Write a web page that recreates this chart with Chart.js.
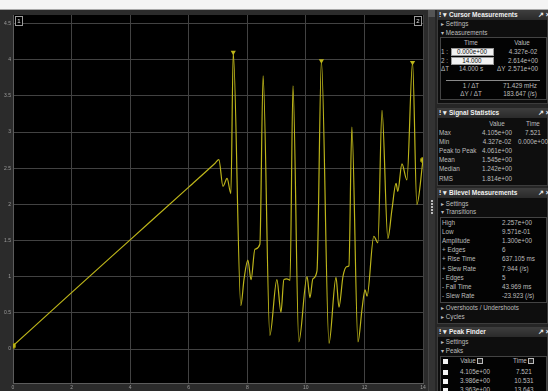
<!DOCTYPE html>
<html>
<head>
<meta charset="utf-8">
<script src="https://cdn.jsdelivr.net/npm/chart.js@4"></script>
<style>
  body { margin: 0; width: 548px; height: 391px; overflow: hidden; background: #262626;
         font-family: "Liberation Sans", Arial, sans-serif; position: relative; }
  #topbar { position: absolute; left: 0; top: 0; width: 548px; height: 9px; background: #f4f4f4; border-bottom: 1px solid #a8a8a8; }
  #plotWrap { position: absolute; left: 0; top: 10px; width: 428px; height: 381px; background: #2b2b2b; }
  #sep { position: absolute; left: 428px; top: 10px; width: 7px; height: 381px; background: #333; border-left: 1px solid #444; box-sizing: border-box; }
  .dot { position: absolute; left: 431px; width: 2px; height: 2px; background: #bbb; }
  .panel { position: absolute; left: 437px; width: 111px; background: #0e0e0e; border: 1px solid #3c3c3c; box-sizing: border-box; }
  .hdr { position: absolute; left: 0; top: 0; right: 0; height: 9px; background: linear-gradient(#3c3c3c, #2a2a2a); }
  .box { position: absolute; border: 1px solid #444; background: #030303; box-sizing: border-box; }
  .t { position: absolute; font-size: 6.3px; line-height: 8px; height: 8px; white-space: nowrap; color: #bdbdbd; }
  .h { font-size: 6.5px; font-weight: bold; color: #f0f0f0; }
  .inp { position: absolute; left: 451px; width: 43px; height: 8px; background: #f2f2f2; border: 1px solid #999; box-sizing: border-box; }
  .chk { position: absolute; left: 443px; width: 5px; height: 5px; background: #f4f4f4; }
  .dd { position: absolute; width: 6px; height: 6px; border: 1px solid #bbb; box-sizing: border-box; background: #222; }
</style>
</head>
<body>
<div id="topbar"></div>
<div id="plotWrap"><canvas id="scope" width="428" height="381"></canvas></div>
<div id="sep"></div>
<div id="side"></div>
<script>
// signal samples
const times = [0, 2, 4, 6, 6.9, 7.03, 7.17, 7.31, 7.44, 7.521, 7.78, 7.89, 8.02, 8.13, 8.26, 8.43, 8.54, 8.77, 9.01,
  9.15, 9.25, 9.35, 9.46, 9.56, 9.76, 10.04, 10.14, 10.24, 10.38, 10.531, 10.79, 11.03, 11.13, 11.27,
  11.40, 11.47, 11.57, 11.78, 11.92, 12.02, 12.09, 12.32, 12.46, 12.60, 12.80, 12.94, 13.08, 13.14,
  13.28, 13.45, 13.643, 13.79, 14];
const values = [0.043, 0.78, 1.51, 2.24, 2.57, 2.62, 2.25, 2.36, 2.15, 4.105, 0.60, 0.97, 1.23, 0.96, 1.38, 1.45, 3.78, 0.19, 0.96,
  0.51, 0.96, 0.97, 0.95, 3.64, 0.10, 1.00, 0.71, 0.97, 1.08, 3.986, 0.08, 0.99, 0.58, 1.01,
  1.14, 1.15, 3.07, 0.10, 0.56, 0.82, 0.73, 1.56, 1.47, 3.30, 1.53, 1.93, 2.29, 2.18,
  2.56, 2.34, 3.963, 2.00, 2.614];
const cursorTimes = [0, 14];
const cursorValues = [0.04327, 2.614];
const peakTimes = [7.521, 10.531, 13.643];
const peakValues = [4.105, 3.986, 3.963];
const xTicks = [0, 2, 4, 6, 8, 10, 12, 14];
const yTicks = [0, 0.5, 1, 1.5, 2, 2.5, 3, 3.5, 4, 4.5];

const yellow = '#bdb51a';
const zip = (xs, ys) => xs.map((x, i) => ({ x: x, y: ys[i] }));

const scopeLook = {
  id: 'scopeLook',
  beforeDraw(chart) {
    const a = chart.chartArea, c = chart.ctx;
    c.save();
    c.fillStyle = '#000';
    c.fillRect(a.left, a.top, a.right - a.left, a.bottom - a.top);
    c.restore();
  },
  afterDraw(chart) {
    const c = chart.ctx, a = chart.chartArea, xs = chart.scales.x;
    c.save();
    c.font = '6px "Liberation Sans", Arial';
    c.textAlign = 'center';
    c.textBaseline = 'middle';
    cursorTimes.forEach((t, i) => {
      const px = xs.getPixelForValue(t);
      const bx = i === 0 ? px + 2 : px - 9;
      c.fillStyle = '#000';
      c.fillRect(bx, a.top + 1, 7, 9);
      c.strokeStyle = '#9a9a9a';
      c.lineWidth = 1;
      c.strokeRect(bx + 0.5, a.top + 1.5, 7, 9);
      c.fillStyle = '#e0e0e0';
      c.fillText(String(i + 1), bx + 4, a.top + 6);
    });
    c.restore();
  }
};

new Chart(document.getElementById('scope'), {
  type: 'line',
  data: {
    datasets: [
      {
        data: zip(times, values),
        borderColor: yellow,
        borderWidth: 1.2,
        pointRadius: 0,
        cubicInterpolationMode: 'monotone'
      },
      {
        type: 'scatter',
        data: zip(cursorTimes, cursorValues),
        pointStyle: 'circle',
        pointRadius: 2.6,
        backgroundColor: yellow,
        borderColor: '#8a8400',
        borderWidth: 1
      },
      {
        type: 'scatter',
        data: zip(peakTimes, peakValues),
        pointStyle: 'triangle',
        rotation: 180,
        pointRadius: 3,
        backgroundColor: yellow,
        borderColor: yellow,
        borderWidth: 0
      }
    ]
  },
  options: {
    responsive: false,
    animation: false,
    devicePixelRatio: 1,
    layout: { padding: { top: 3, right: 3, left: 0, bottom: 0 } },
    plugins: { legend: { display: false }, tooltip: { enabled: false } },
    scales: {
      x: {
        type: 'linear', min: 0, max: 14,
        afterBuildTicks: s => { s.ticks = xTicks.map(v => ({ value: v })); },
        afterFit: s => { s.height = 8; },
        grid: { color: '#424242', drawTicks: false },
        border: { color: '#5c5c5c' },
        ticks: { color: '#9c9c9c', font: { size: 5, family: 'Liberation Sans' }, padding: 2, maxRotation: 0,
                 callback: v => String(v) }
      },
      y: {
        type: 'linear', min: -0.47, max: 4.62,
        afterBuildTicks: s => { s.ticks = yTicks.map(v => ({ value: v })); },
        afterFit: s => { s.width = 13; },
        grid: { color: '#424242', drawTicks: false },
        border: { color: '#5c5c5c' },
        ticks: { color: '#9c9c9c', font: { size: 5, family: 'Liberation Sans' }, padding: 2,
                 callback: v => String(v) }
      }
    }
  },
  plugins: [scopeLook]
});

// side panels (measurement readouts)
const side = document.getElementById('side');
function el(cls, css, text) {
  const d = document.createElement('div');
  d.className = cls;
  d.style.cssText = css;
  if (text !== undefined) d.textContent = text;
  side.appendChild(d);
  return d;
}
function txt(s, x, cy, align, extra) {
  const tf = align === 'c' ? 'translateX(-50%)' : align === 'r' ? 'translateX(-100%)' : 'none';
  el('t ' + (extra || ''), 'left:' + x + 'px;top:' + (cy - 4) + 'px;transform:' + tf, s);
}
function panel(top, height, title) {
  const p = el('panel', 'top:' + top + 'px;height:' + height + 'px');
  const h = document.createElement('div');
  h.className = 'hdr';
  p.appendChild(h);
  txt('\u205E \u25BE', 439, top + 5, 'l', 'h');
  txt(title, 449, top + 5, 'l', 'h');
  txt('\u2197 \u00D7', 538, top + 5, 'l', 'h');
}
function box(l, t, w, h) { el('box', 'left:' + l + 'px;top:' + t + 'px;width:' + w + 'px;height:' + h + 'px'); }

// separator handle
el('t', 'left:428px;top:10px;width:7px;height:7px;background:#555;');
[200, 203, 206, 209, 212].forEach(y => el('dot', 'top:' + y + 'px'));

// Cursor Measurements
panel(10, 94, 'Cursor Measurements');
txt('\u25B8 Settings', 441, 24);
txt('\u25BE Measurements', 441, 33);
box(440, 37, 107, 63);
txt('Time', 471, 43, 'c'); txt('Value', 522, 43, 'c');
txt('1 :', 441, 52);
el('inp', 'top:48px'); el('t', 'left:472px;top:48px;transform:translateX(-50%);color:#111', '0.000e+00');
txt('4.327e-02', 523, 52, 'c');
txt('2 :', 441, 61);
el('inp', 'top:57px'); el('t', 'left:472px;top:57px;transform:translateX(-50%);color:#111', '14.000');
txt('2.614e+00', 523, 61, 'c');
txt('\u0394T', 441, 69); txt('14.000 s', 471, 69, 'c'); txt('\u0394Y', 497, 69); txt('2.571e+00', 523, 69, 'c');
el('t', 'left:446px;top:80px;width:94px;height:1px;background:#8a8a8a');
txt('1 / \u0394T', 471, 86, 'c'); txt('71.429 mHz', 520, 86, 'c');
txt('\u0394Y / \u0394T', 471, 94, 'c'); txt('183.647 (/s)', 520, 94, 'c');

// Signal Statistics
panel(108, 78, 'Signal Statistics');
txt('Value', 497, 124, 'c'); txt('Time', 533, 124, 'c');
const statRows = [['Max', '4.105e+00', '7.521'], ['Min', '4.327e-02', '0.000e+00'], ['Peak to Peak', '4.061e+00', ''],
  ['Mean', '1.545e+00', ''], ['Median', '1.242e+00', ''], ['RMS', '1.814e+00', '']];
statRows.forEach((r, i) => {
  const cy = 133 + i * 9.1;
  txt(r[0], 439, cy); txt(r[1], 497, cy, 'c'); if (r[2]) txt(r[2], 533, cy, 'c');
});

// Bilevel Measurements
panel(188, 136, 'Bilevel Measurements');
txt('\u25B8 Settings', 441, 204);
txt('\u25BE Transitions', 441, 212);
box(440, 217, 107, 86);
const biRows = [['High', '2.257e+00'], ['Low', '9.571e-01'], ['Amplitude', '1.300e+00'], ['+ Edges', '6'],
  ['+ Rise Time', '637.105 ms'], ['+ Slew Rate', '7.944 (/s)'], ['- Edges', '5'], ['- Fall Time', '43.969 ms'],
  ['- Slew Rate', '-23.923 (/s)']];
biRows.forEach((r, i) => {
  const cy = 223 + i * 9.1;
  txt(r[0], 442, cy); txt(r[1], 502, cy);
});
txt('\u25B8 Overshoots / Undershoots', 441, 308);
txt('\u25B8 Cycles', 441, 317);

// Peak Finder
panel(327, 70, 'Peak Finder');
txt('\u25B8 Settings', 441, 342);
txt('\u25BE Peaks', 441, 351);
box(440, 356, 107, 40);
el('chk', 'top:359px');
txt('Value', 468, 361, 'c'); el('dd', 'left:477px;top:358px');
txt('Time', 520, 361, 'c'); el('dd', 'left:528px;top:358px');
const peakRowsY = [372, 381, 390];
peakValues.forEach((v, i) => {
  el('chk', 'top:' + (peakRowsY[i] - 2) + 'px');
  txt(v.toExponential(3).replace('e+', 'e+0'), 475, peakRowsY[i], 'c');
  txt(peakTimes[i].toFixed(3), 524, peakRowsY[i], 'c');
});
</script>
</body>
</html>
